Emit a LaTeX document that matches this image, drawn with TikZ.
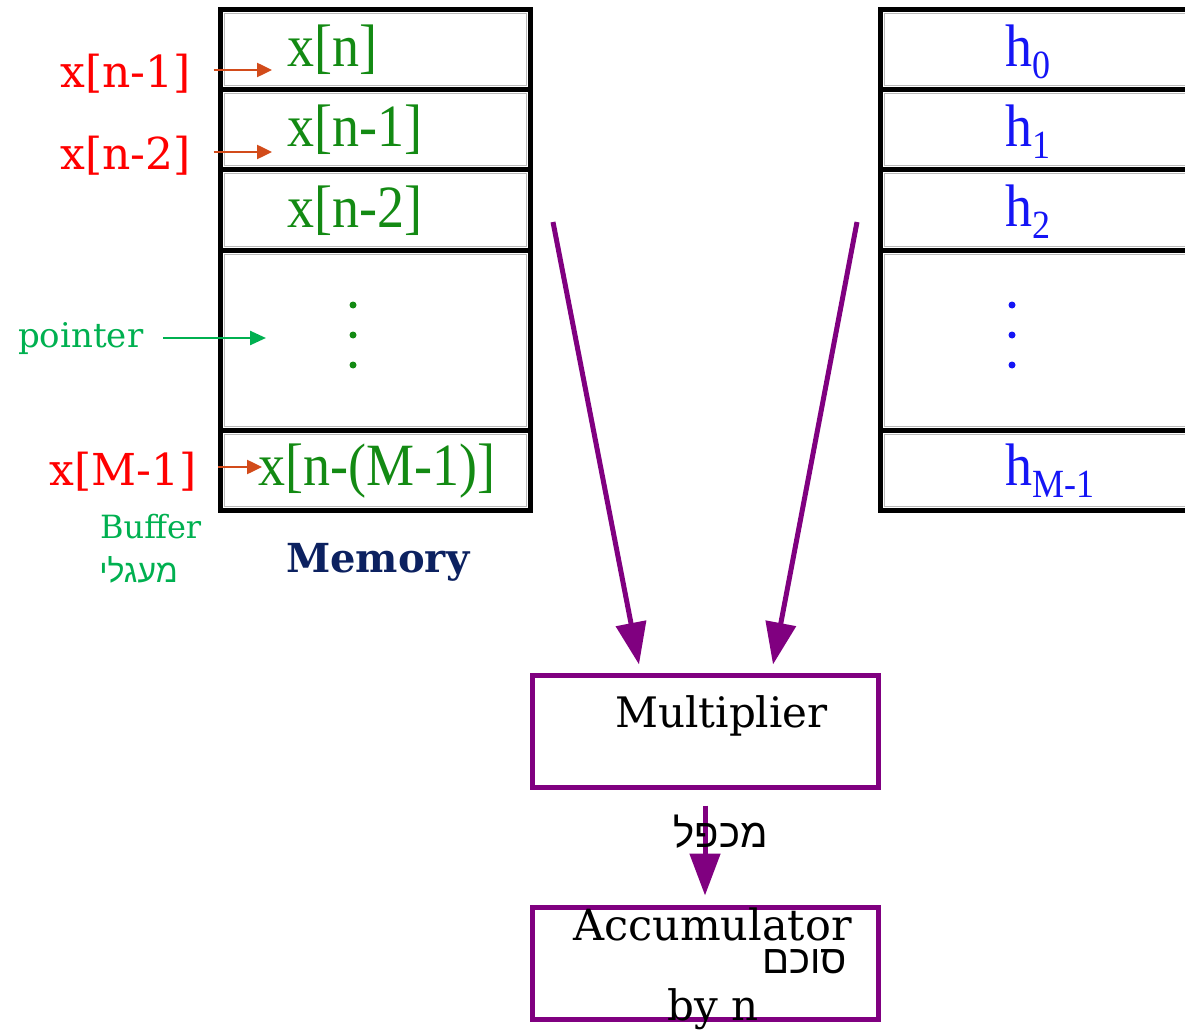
\documentclass[tikz,border=0pt]{standalone}
\usepackage{fontspec}
\setmainfont{Liberation Serif}
\newfontfamily\valfont[FakeStretch=0.9]{Liberation Serif}
\newfontfamily\slabfont{DejaVu Serif}
\newfontfamily\hebfont[Script=Hebrew]{Liberation Sans}
\usetikzlibrary{arrows.meta,positioning,calc}
\TeXXeTstate=1
\definecolor{labred}{HTML}{FF0000}
\definecolor{arrorange}{HTML}{D24B1A}
\definecolor{valgreen}{HTML}{138A13}
\definecolor{ptrgreen}{HTML}{00B050}
\definecolor{memnavy}{HTML}{0C2160}
\definecolor{coefblue}{HTML}{1515F5}
\definecolor{unitpurple}{HTML}{800080}
\newcommand{\hsub}[1]{h\raisebox{-0.2em}{\fontsize{40}{40}\selectfont #1}}

\begin{document}
\begin{tikzpicture}[x=1pt,y=-1pt,
  tbl/.style={line width=5pt},
  cellrim/.style={draw=gray!55,line width=1pt},
  val/.style={font=\valfont\fontsize{60}{60}\selectfont,text=valgreen,anchor=base west,inner sep=0pt},
  coef/.style={font=\valfont\fontsize{60}{60}\selectfont,text=coefblue,anchor=base west,inner sep=0pt},
  idx/.style={font=\slabfont\fontsize{44}{44}\selectfont,text=labred,anchor=base west,inner sep=0pt},
  note/.style={font=\slabfont\fontsize{32}{32}\selectfont,text=ptrgreen,anchor=base west,inner sep=0pt},
  unit/.style={draw=unitpurple,line width=5pt,minimum width=346pt,minimum height=112pt,inner sep=0pt},
  utext/.style={font=\slabfont\fontsize{42}{42}\selectfont,anchor=base west,inner sep=0pt},
  heb/.style={font=\hebfont\fontsize{40}{40}\selectfont,anchor=base east,inner sep=0pt},
  idxarr/.style={draw=arrorange,line width=2.5pt,-{Triangle[length=15pt,width=14pt]}},
  ptrarr/.style={draw=ptrgreen,line width=2.5pt,-{Triangle[length=16pt,width=14pt]}},
  feed/.style={draw=unitpurple,line width=5pt,-{Triangle[length=42pt,width=30pt]}}]
 \useasboundingbox (0,0) rectangle (1185,1032);
 \clip (0,0) rectangle (1185,1032);
 % memory and coefficient tables
 \foreach \xl/\xr in {220/530,880/1210}{
   \foreach \t/\b in {10/90,90/170,170/251,251/430,430/510}
     \draw[cellrim] (\xl+4,\t+4) rectangle (\xr-4,\b-4);
   \draw[tbl] (\xl,10) rectangle (\xr,510);
   \foreach \y in {90,170,251,430} \draw[tbl] (\xl,\y) -- (\xr,\y);
 }
 \node[val] (v0) at (287,67)  {x[n]};
 \node[val] (v1) at (287,147) {x[n-1]};
 \node[val] (v2) at (287,228) {x[n-2]};
 \node[val] (v3) at (258,485) {x[n-(M-1)]};
 \foreach \y in {305,335,365} \fill[valgreen] (353,\y) circle (3.5pt);
 \node[coef] (h0) at (1005,67)  {\hsub{0}};
 \node[coef] (h1) at (1005,147) {\hsub{1}};
 \node[coef] (h2) at (1005,227) {\hsub{2}};
 \node[coef] (h3) at (1005,485) {\hsub{M-1}};
 \foreach \y in {305,335,365} \fill[coefblue] (1012,\y) circle (3.5pt);
 \node[font=\slabfont\bfseries\fontsize{40}{40}\selectfont,text=memnavy,anchor=base west,inner sep=0pt] (mem) at (286,572) {Memory};
 % pointers into the buffer
 \node[idx] (r1) at (60,88)  {x[n-1]};
 \node[idx] (r2) at (60,170) {x[n-2]};
 \node[idx] (r3) at (49,485) {x[M-1]};
 \coordinate (t1) at (272,70);
 \coordinate (t2) at (272,152);
 \coordinate (t3) at (262,467);
 \draw[idxarr,shorten <=23pt] (r1.east |- t1) -- (t1);
 \draw[idxarr,shorten <=23pt] (r2.east |- t2) -- (t2);
 \draw[idxarr,shorten <=22pt] (r3.east |- t3) -- (t3);
 \node[note,font=\slabfont\fontsize{34}{34}\selectfont] (ptr) at (18,347) {pointer};
 \coordinate (tp) at (266,338);
 \draw[ptrarr,shorten <=20pt] (ptr.east |- tp) -- (tp);
 \node[note] (buf) at (100,538) {Buffer};
 \node[heb,font=\hebfont\fontsize{32}{32}\selectfont,text=ptrgreen] (circ) at (178,582) {\beginR מעגלי\endR};
 % multiply and accumulate
 \node[unit] (mult) at (705,731) {};
 \node[utext] at (615,727) {Multiplier};
 \node[unit] (acc) at (705,963) {};
 \node[utext,font=\slabfont\fontsize{43}{43}\selectfont] at (573,940) {Accumulator};
 \node[heb] at (847,973) {\beginR סוכם\endR};
 \node[utext] at (667,1020) {by n};
 \coordinate (xin) at (553,222);
 \coordinate (hin) at (857,222);
 \draw[feed] (xin) -- ($(mult.north)+(-66,-8)$);
 \draw[feed] (hin) -- ($(mult.north)+(68,-8)$);
 \draw[feed,shorten <=16pt] (mult.south) -- ($(acc.north)+(0,-9)$);
 \node[heb] at (768,847) {\beginR מכפל\endR};
\end{tikzpicture}
\end{document}
